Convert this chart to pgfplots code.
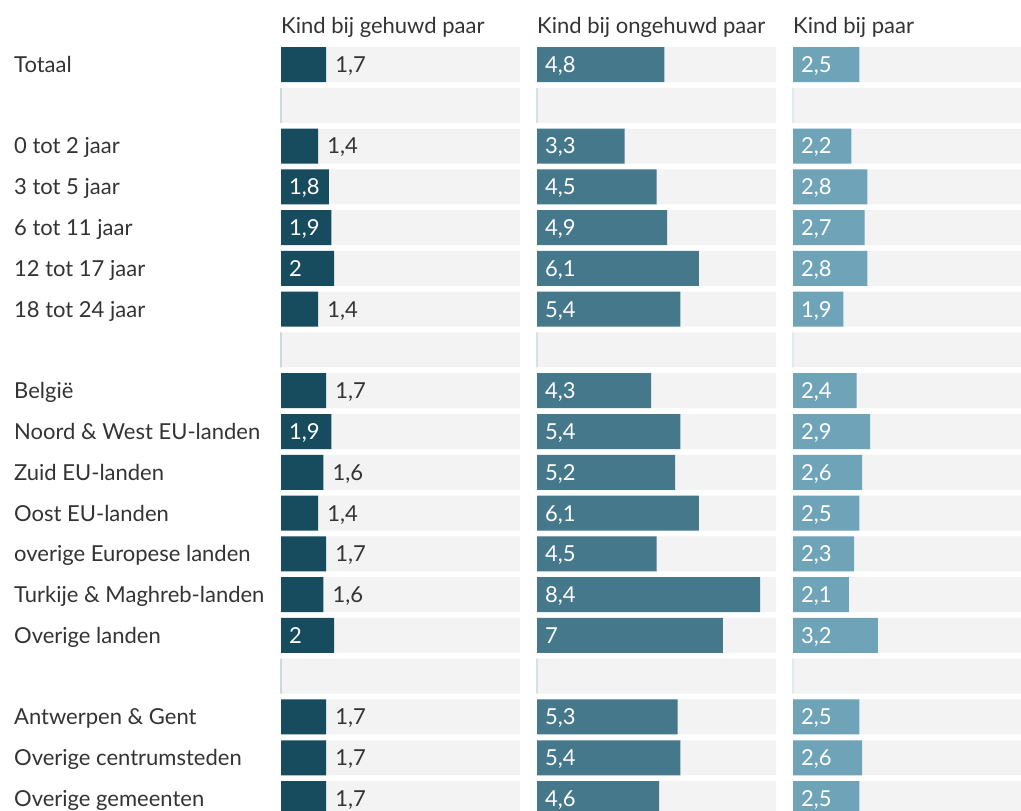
\documentclass[border=0pt]{standalone}
\usepackage{fontspec}
\setmainfont{Lato}
\usepackage{pgfplots}
\pgfplotsset{compat=1.18}
\usepackage{pgfplotstable}

\definecolor{c1}{HTML}{174C5F}
\definecolor{c2}{HTML}{45788A}
\definecolor{c3}{HTML}{6FA4B8}
\definecolor{bg}{HTML}{F3F3F3}
\definecolor{txt}{HTML}{333333}

\newcommand\fs{\fontsize{22bp}{26bp}\selectfont}

% row index: 0 Totaal, 1/7/15 blank separators
\pgfplotstableread{
row v
0 1.7
2 1.4
3 1.8
4 1.9
5 2
6 1.4
8 1.7
9 1.9
10 1.6
11 1.4
12 1.7
13 1.6
14 2
16 1.7
17 1.7
18 1.7
}\gehuwd

\pgfplotstableread{
row v
0 4.8
2 3.3
3 4.5
4 4.9
5 6.1
6 5.4
8 4.3
9 5.4
10 5.2
11 6.1
12 4.5
13 8.4
14 7
16 5.3
17 5.4
18 4.6
}\ongehuwd

\pgfplotstableread{
row v
0 2.5
2 2.2
3 2.8
4 2.7
5 2.8
6 1.9
8 2.4
9 2.9
10 2.6
11 2.5
12 2.3
13 2.1
14 3.2
16 2.5
17 2.6
18 2.5
}\paar

\pgfplotsset{
  panel/.style={
    scale only axis, width=239bp, height=811bp,
    xmin=0, xmax=9, ymin=-1.582, ymax=18.306, y dir=reverse,
    axis line style={draw=none}, xtick=\empty, ytick=\empty,
    major tick length=0pt, clip=false,
    /pgf/number format/assume math mode=true,
  },
  bars/.style={xbar, bar shift=0pt, bar width=35bp, draw=none},
  inlab/.style={
    nodes near coords={\pgfmathprintnumber[use comma]{\pgfplotspointmeta}},
    point meta=x,
    visualization depends on={rawx \as \rx},
    nodes near coords style={anchor=base west, inner sep=0pt, white, font=\fs,
      xshift={-\rx*26.5556bp+8bp}, yshift=-0.36*22bp},
  },
  outlab/.style={
    nodes near coords={\pgfmathprintnumber[use comma]{\pgfplotspointmeta}},
    point meta=x,
    nodes near coords style={anchor=base west, inner sep=0pt, text=txt, font=\fs,
      xshift=9bp, yshift=-0.36*22bp},
  },
}
\tikzset{ttl/.style={anchor=base west, inner sep=0pt, text=txt, font=\fs, yshift=-0.36*22bp}}

\begin{document}
\begin{tikzpicture}
\path[use as bounding box] (0,0) rectangle (1021bp,811bp);

\begin{axis}[panel, at={(281bp,0)}, anchor=south west,
  ytick={0,2,3,4,5,6,8,9,10,11,12,13,14,16,17,18},
  yticklabels={Totaal, 0 tot 2 jaar, 3 tot 5 jaar, 6 tot 11 jaar, 12 tot 17 jaar,
    18 tot 24 jaar, België, Noord \& West EU-landen, Zuid EU-landen, Oost EU-landen,
    overige Europese landen, Turkije \& Maghreb-landen, Overige landen,
    Antwerpen \& Gent, Overige centrumsteden, Overige gemeenten},
  yticklabel style={anchor=base west, inner sep=0pt, text=txt, font=\fs,
    xshift=-267bp, yshift=-0.36*22bp},
]
\addplot[bars, fill=bg] coordinates {(9,0) (9,1) (9,2) (9,3) (9,4) (9,5) (9,6) (9,7) (9,8)
  (9,9) (9,10) (9,11) (9,12) (9,13) (9,14) (9,15) (9,16) (9,17) (9,18)};
\addplot[xbar, bar shift=0pt, bar width=35bp, draw=c1!22, line width=1.2bp, fill=none]
  coordinates {(0,1) (0,7) (0,15)};
\addplot[bars, fill=c1, outlab, restrict x to domain=0:1.75] table[x=v, y=row] {\gehuwd};
\addplot[bars, fill=c1, inlab, restrict x to domain=1.75:10] table[x=v, y=row] {\gehuwd};
\node[ttl] at (axis cs:0,-0.956) {Kind bij gehuwd paar};
\end{axis}

\begin{axis}[panel, at={(537bp,0)}, anchor=south west]
\addplot[bars, fill=bg] coordinates {(9,0) (9,1) (9,2) (9,3) (9,4) (9,5) (9,6) (9,7) (9,8)
  (9,9) (9,10) (9,11) (9,12) (9,13) (9,14) (9,15) (9,16) (9,17) (9,18)};
\addplot[xbar, bar shift=0pt, bar width=35bp, draw=c2!22, line width=1.2bp, fill=none]
  coordinates {(0,1) (0,7) (0,15)};
\addplot[bars, fill=c2, inlab] table[x=v, y=row] {\ongehuwd};
\node[ttl] at (axis cs:0,-0.956) {Kind bij ongehuwd paar};
\end{axis}

\begin{axis}[panel, at={(793bp,0)}, anchor=south west]
\addplot[bars, fill=bg] coordinates {(9,0) (9,1) (9,2) (9,3) (9,4) (9,5) (9,6) (9,7) (9,8)
  (9,9) (9,10) (9,11) (9,12) (9,13) (9,14) (9,15) (9,16) (9,17) (9,18)};
\addplot[xbar, bar shift=0pt, bar width=35bp, draw=c3!22, line width=1.2bp, fill=none]
  coordinates {(0,1) (0,7) (0,15)};
\addplot[bars, fill=c3, inlab] table[x=v, y=row] {\paar};
\node[ttl] at (axis cs:0,-0.956) {Kind bij paar};
\end{axis}
\end{tikzpicture}
\end{document}
